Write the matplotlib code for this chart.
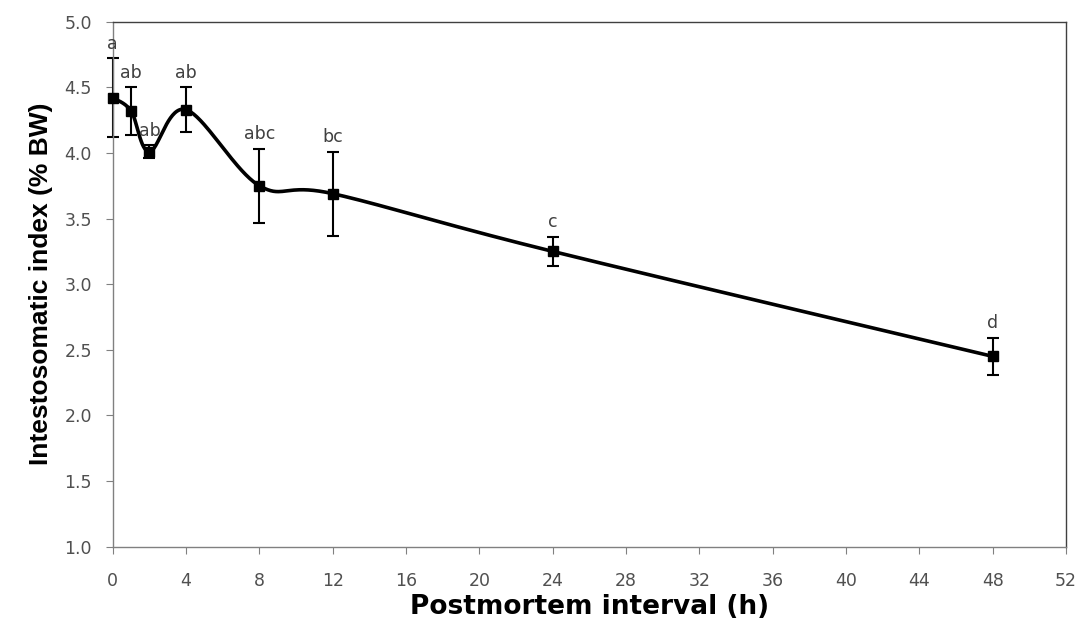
import numpy as np
import matplotlib
matplotlib.use("Agg")
from matplotlib import pyplot as plt

plt.rcParams["font.family"] = ["DejaVu Sans"]

hours = [0, 1, 2, 4, 8, 12, 24, 48]
index_mean = [4.42, 4.32, 4.01, 4.33, 3.75, 3.69, 3.25, 2.45]
index_se = [0.30, 0.18, 0.05, 0.17, 0.28, 0.32, 0.11, 0.14]
groups = ["a", "ab", "ab", "ab", "abc", "bc", "c", "d"]


def smooth_curve(xs, ys, steps=40):
    # bezier segments with catmull-rom style control points
    pts = np.column_stack([xs, ys]).astype(float)
    n = len(pts)
    out = []
    for i in range(n - 1):
        p0 = pts[max(i - 1, 0)]
        p1 = pts[i]
        p2 = pts[i + 1]
        p3 = pts[min(i + 2, n - 1)]
        c1 = p1 + (p2 - p0) / 6.0
        c2 = p2 - (p3 - p1) / 6.0
        t = np.linspace(0, 1, steps)[:, None]
        seg = ((1 - t) ** 3) * p1 + 3 * ((1 - t) ** 2) * t * c1 \
            + 3 * (1 - t) * t ** 2 * c2 + t ** 3 * p2
        out.append(seg if i == 0 else seg[1:])
    curve = np.vstack(out)
    return curve[:, 0], curve[:, 1]


fig = plt.figure(figsize=(10.82, 6.19), dpi=100)
ax = fig.add_axes([0.1042, 0.1168, 0.8811, 0.8481])

cx, cy = smooth_curve(hours, index_mean)
ax.plot(cx, cy, color="black", lw=2.6, zorder=3, clip_on=False)
ax.errorbar(hours, index_mean, yerr=index_se, fmt="none", ecolor="black",
            elinewidth=1.5, capsize=4.3, capthick=1.5, zorder=2, clip_on=False)
ax.plot(hours, index_mean, ls="none", marker="s", ms=7.5, color="black",
        zorder=4, clip_on=False)

for x, y, e, g in zip(hours, index_mean, index_se, groups):
    ax.annotate(g, (x, y + e), xytext=(0, 4), textcoords="offset points",
                ha="center", va="bottom", fontsize=12.5, color="#404040")

ax.set_xlim(0, 52)
ax.set_ylim(1.0, 5.0)
ax.set_xticks(np.arange(0, 53, 4))
ax.set_yticks(np.arange(1.0, 5.01, 0.5))
ax.set_yticklabels([f"{v:.1f}" for v in np.arange(1.0, 5.01, 0.5)])

for side in ["left", "bottom"]:
    ax.spines[side].set_color("#808080")
    ax.spines[side].set_linewidth(1.0)
for side in ["top", "right"]:
    ax.spines[side].set_color("#404040")
    ax.spines[side].set_linewidth(1.0)

ax.tick_params(axis="both", direction="out", length=5, color="#808080",
               labelsize=12.5, labelcolor="#505050")
ax.tick_params(axis="x", pad=13)
ax.tick_params(axis="y", pad=10)

ax.set_xlabel("Postmortem interval (h)", fontsize=19, fontweight="bold", labelpad=3)
ax.set_ylabel("Intestosomatic index (% BW)", fontsize=19, fontweight="bold",
              family="Liberation Sans", labelpad=8)

fig.savefig("out.png", dpi=100)
